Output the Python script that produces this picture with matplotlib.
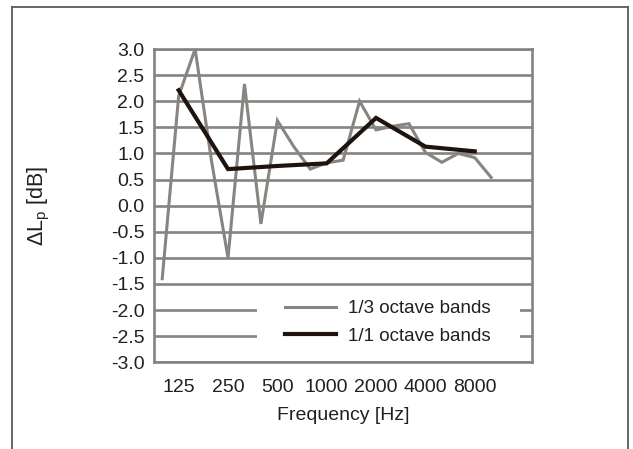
import numpy as np
import matplotlib
matplotlib.use('Agg')
import matplotlib.pyplot as plt
from matplotlib.patches import Rectangle
from matplotlib.lines import Line2D

plt.rcParams['font.family'] = ['Liberation Sans', 'DejaVu Sans']

# 1/3 octave band centre frequencies (category axis)
bands = ['100', '125', '160', '200', '250', '315', '400', '500', '630', '800',
         '1000', '1250', '1600', '2000', '2500', '3150', '4000', '5000', '6300',
         '8000', '10000', '12500', '16000']
third_oct = [-1.4, 2.1, 3.0, 0.85, -1.0, 2.33, -0.35, 1.63, 1.13, 0.70,
             0.82, 0.87, 2.0, 1.45, 1.52, 1.57, 1.02, 0.83, 1.0, 0.92,
             0.54, np.nan, np.nan]
octave_bands = ['125', '250', '500', '1000', '2000', '4000', '8000']
full_oct = [2.21, 0.70, 0.76, 0.81, 1.68, 1.13, 1.04]
y_ticks = np.arange(-3.0, 3.01, 0.5)

grid_col = '#85837f'
gray_col = '#878581'
dark_col = '#1f130d'
text_col = '#231f20'

W, H = 633, 449
fig = plt.figure(figsize=(W / 100, H / 100), dpi=100)
ax = fig.add_axes([154 / W, 1 - 362.3 / H, 378.3 / W, 313.3 / H])

x_all = np.arange(len(bands))
x_oct = [bands.index(b) for b in octave_bands]

ax.set_xlim(-0.5, len(bands) - 0.5)
ax.set_ylim(-3.0, 3.0)
for v in y_ticks:
    ax.axhline(v, color=grid_col, lw=1.9, zorder=1, solid_capstyle='butt')
for s in ax.spines.values():
    s.set_color(grid_col)
    s.set_linewidth(1.9)

l1, = ax.plot(x_all, third_oct, color=gray_col, lw=2.2, zorder=3,
              solid_joinstyle='miter', clip_on=False, label='1/3 octave bands')
l2, = ax.plot(x_oct, full_oct, color=dark_col, lw=3.0, zorder=4,
              solid_joinstyle='miter', label='1/1 octave bands')

ax.set_yticks(y_ticks)
ax.set_yticklabels([f'{v:.1f}' for v in y_ticks])
ax.set_xticks(x_oct)
ax.set_xticklabels(octave_bands)
ax.tick_params(length=0, labelsize=14, colors=text_col)
ax.tick_params(axis='y', pad=7)
ax.tick_params(axis='x', pad=12)

ax.set_ylabel('ΔL$_\\mathregular{p}$ [dB]', fontsize=15.5, color=text_col)
ax.yaxis.set_label_coords(-0.27, 0.5)
ax.set_xlabel('Frequency [Hz]', fontsize=14, color=text_col)
ax.xaxis.set_label_coords(0.5, -0.142)

# legend background (white box over gridlines)
ax.add_patch(Rectangle(((257 - 154) / 378.3, (362.3 - 352) / 313.3),
                       (520 - 257) / 378.3, 62 / 313.3,
                       transform=ax.transAxes, facecolor='white',
                       edgecolor='none', zorder=2))
ax.legend(handles=[l1, l2], loc='center left', frameon=False,
          bbox_to_anchor=((268 - 154) / 378.3, (362.3 - 322.5) / 313.3),
          fontsize=13.5, handlelength=2.7, handletextpad=0.65,
          labelspacing=0.55, labelcolor=text_col)

# outer chart frame
fig.add_artist(Line2D([11.7 / W, 11.7 / W], [-0.1, 1 - 6.5 / H],
                      transform=fig.transFigure, color='#5a5a5a', lw=1.3))
fig.add_artist(Line2D([11.7 / W, 628 / W], [1 - 6.5 / H, 1 - 6.5 / H],
                      transform=fig.transFigure, color='#5a5a5a', lw=1.3))
fig.add_artist(Line2D([628 / W, 628 / W], [-0.1, 1 - 6.5 / H],
                      transform=fig.transFigure, color='#5a5a5a', lw=1.3))

fig.savefig('out.png', dpi=100)
